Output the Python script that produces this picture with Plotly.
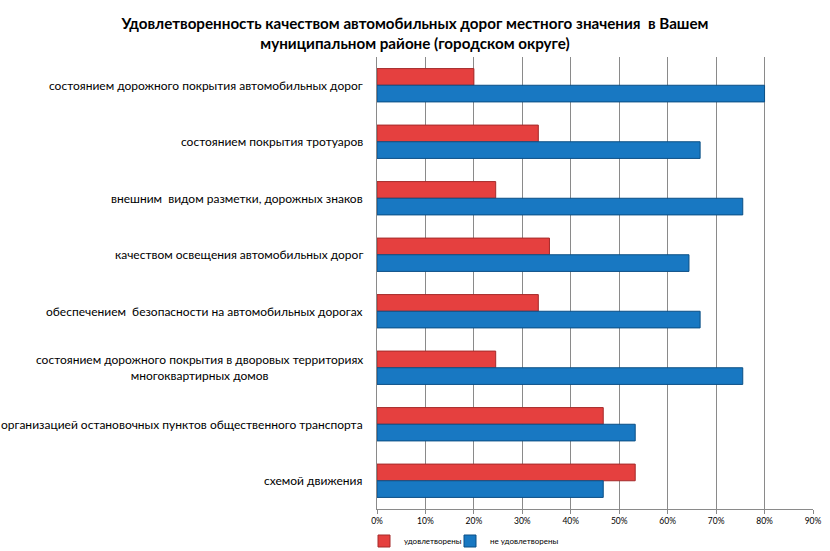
import plotly.graph_objects as go

categories = [
    "состоянием дорожного покрытия автомобильных дорог",
    "состоянием покрытия тротуаров",
    "внешним  видом разметки, дорожных знаков",
    "качеством освещения автомобильных дорог",
    "обеспечением  безопасности на автомобильных дорогах",
    "состоянием дорожного покрытия в дворовых территориях<br>многоквартирных домов",
    "организацией остановочных пунктов общественного транспорта",
    "схемой движения",
]
satisfied = [20.0, 33.3, 24.5, 35.6, 33.3, 24.5, 46.7, 53.3]
not_satisfied = [80.0, 66.7, 75.5, 64.4, 66.7, 75.5, 53.3, 46.7]
series_names = ["удовлетворены", "не удовлетворены"]
tick_vals = [0, 10, 20, 30, 40, 50, 60, 70, 80, 90]
tick_text = ["0%", "10%", "20%", "30%", "40%", "50%", "60%", "70%", "80%", "90%"]
title_text = ("Удовлетворенность качеством автомобильных дорог местного значения  в Вашем<br>"
              "муниципальном районе (городском округе)")

FONT = "Lato"

fig = go.Figure()
fig.add_trace(go.Bar(
    y=categories, x=satisfied, orientation="h", name=series_names[0],
    marker=dict(color="#E5403F", line=dict(color="#A52A2A", width=1)),
    legend="legend",
))
fig.add_trace(go.Bar(
    y=categories, x=not_satisfied, orientation="h", name=series_names[1],
    marker=dict(color="#1878C2", line=dict(color="#0B4F85", width=1)),
    legend="legend2",
))

for c in categories:
    fig.add_annotation(
        x=0, xref="paper", y=c, yref="y", text=c, showarrow=False,
        xanchor="right", xshift=-12, align="center",
        font=dict(family=FONT, size=12, color="#000000"),
    )

legend_common = dict(orientation="h", xref="container", yref="container",
                     xanchor="left", y=1 - 541 / 551, yanchor="middle",
                     font=dict(family=FONT, size=8, color="#000000"),
                     itemwidth=30, bgcolor="rgba(0,0,0,0)")

fig.update_layout(
    width=830, height=551,
    margin=dict(l=377, r=17, t=57, b=42, autoexpand=False),
    paper_bgcolor="white", plot_bgcolor="white",
    barmode="group", bargap=0.41, bargroupgap=0.0,
    title=dict(text="<b>" + title_text + "</b>", x=0.5, xanchor="center",
               xref="container", yref="container",
               y=1 - 29 / 551, yanchor="middle",
               font=dict(family=FONT, size=15.2, color="#000000")),
    showlegend=True,
    legend=dict(x=364 / 830, **legend_common),
    legend2=dict(x=450 / 830, **legend_common),
    xaxis=dict(range=[0, 90], tickvals=tick_vals, ticktext=tick_text,
               showgrid=True, gridcolor="#8A8A8A", gridwidth=1,
               showline=True, linecolor="#8A8A8A", linewidth=1,
               ticks="outside", ticklen=4, tickcolor="#8A8A8A",
               tickfont=dict(family=FONT, size=8.5, color="#000000"),
               zeroline=False, fixedrange=True),
    yaxis=dict(autorange="reversed", showticklabels=False,
               showline=True, linecolor="#8A8A8A", linewidth=1,
               showgrid=False, ticks="", fixedrange=True),
)

fig.write_html("out.html", config={"displayModeBar": False},
               post_script="document.body.style.margin='0';")
